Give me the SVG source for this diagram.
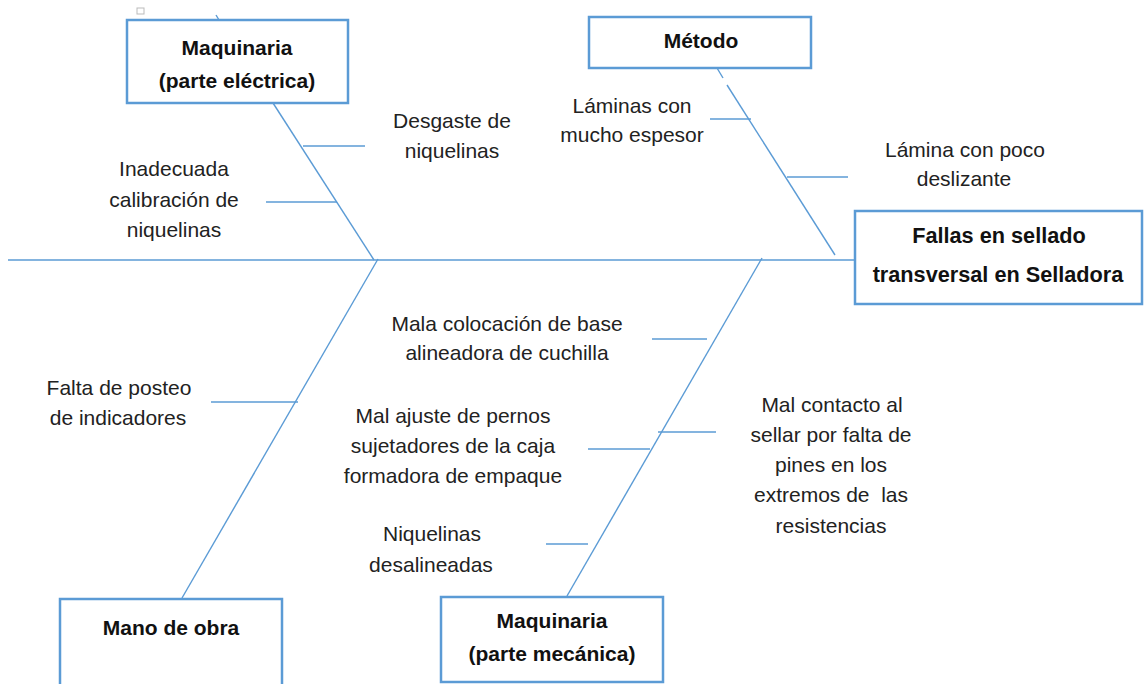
<svg xmlns="http://www.w3.org/2000/svg" width="1144" height="684" viewBox="0 0 1144 684">
<style>
.bg{fill:#ffffff}
.box{fill:#ffffff;stroke:#5b9bd5;stroke-width:2.5}
.ln{stroke:#5b9bd5;stroke-width:1.4;fill:none}
.t{font-family:"Liberation Sans",Arial,sans-serif;font-size:21px;fill:#222;text-anchor:middle}
.b{font-family:"Liberation Sans",Arial,sans-serif;font-size:21px;font-weight:bold;fill:#111;text-anchor:middle}
.bh{font-family:"Liberation Sans",Arial,sans-serif;font-size:21.7px;font-weight:bold;fill:#111;text-anchor:middle}
</style>
<rect class="bg" x="0" y="0" width="1144" height="684"/>
<rect x="137" y="8" width="7" height="6" fill="none" stroke="#bbbbbb" stroke-width="1"/>
<g id="connectors">
<line class="ln" x1="8" y1="260" x2="855" y2="260"/>
<line class="ln" x1="273" y1="103" x2="374" y2="260"/>
<line class="ln" x1="216" y1="15" x2="219" y2="20"/>
<line class="ln" x1="303" y1="146" x2="365" y2="146"/>
<line class="ln" x1="266" y1="202" x2="337" y2="202"/>
<line class="ln" x1="378" y1="259" x2="182" y2="598"/>
<line class="ln" x1="211" y1="402" x2="298" y2="402"/>
<line class="ln" x1="717" y1="68" x2="723" y2="78"/>
<line class="ln" x1="727" y1="85" x2="835" y2="255"/>
<line class="ln" x1="710" y1="119" x2="751" y2="119"/>
<line class="ln" x1="787" y1="177" x2="848" y2="177"/>
<line class="ln" x1="762" y1="258" x2="567" y2="596"/>
<line class="ln" x1="652" y1="339" x2="707" y2="339"/>
<line class="ln" x1="588" y1="449" x2="650" y2="449"/>
<line class="ln" x1="658" y1="432" x2="716" y2="432"/>
<line class="ln" x1="546" y1="544" x2="588" y2="544"/>
</g>
<g id="n-electrica">
<rect class="box" x="127" y="20" width="221" height="83"/>
<text class="b" x="237" y="55">Maquinaria</text>
<text class="b" x="237" y="88">(parte eléctrica)</text>
</g>
<g id="n-metodo">
<rect class="box" x="589" y="17" width="222" height="51"/>
<text class="b" x="701" y="48">Método</text>
</g>
<g id="n-efecto">
<rect class="box" x="855" y="211" width="287" height="93"/>
<text class="bh" x="999" y="243">Fallas en sellado</text>
<text class="bh" x="998" y="282">transversal en Selladora</text>
</g>
<g id="n-mano">
<rect class="box" x="60" y="599" width="222" height="92"/>
<text class="b" x="171" y="635">Mano de obra</text>
</g>
<g id="n-mecanica">
<rect class="box" x="441" y="597" width="222" height="85"/>
<text class="b" x="552" y="628">Maquinaria</text>
<text class="b" x="552" y="661">(parte mecánica)</text>
</g>
<g id="c-desgaste">
<text class="t" x="452" y="128">Desgaste de</text>
<text class="t" x="452" y="158">niquelinas</text>
</g>
<g id="c-inadecuada">
<text class="t" x="174" y="176">Inadecuada</text>
<text class="t" x="174" y="207">calibración de</text>
<text class="t" x="174" y="237">niquelinas</text>
</g>
<g id="c-laminas">
<text class="t" x="632" y="113">Láminas con</text>
<text class="t" x="632" y="142">mucho espesor</text>
</g>
<g id="c-lamina">
<text class="t" x="965" y="157">Lámina con poco</text>
<text class="t" x="964" y="186">deslizante</text>
</g>
<g id="c-falta">
<text class="t" x="119" y="395">Falta de posteo</text>
<text class="t" x="118" y="425">de indicadores</text>
</g>
<g id="c-mala">
<text class="t" x="507" y="331">Mala colocación de base</text>
<text class="t" x="507" y="360">alineadora de cuchilla</text>
</g>
<g id="c-ajuste">
<text class="t" x="453" y="423">Mal ajuste de pernos</text>
<text class="t" x="453" y="453">sujetadores de la caja</text>
<text class="t" x="453" y="483">formadora de empaque</text>
</g>
<g id="c-niquelinas">
<text class="t" x="432" y="541">Niquelinas</text>
<text class="t" x="431" y="572">desalineadas</text>
</g>
<g id="c-contacto">
<text class="t" x="832" y="412">Mal contacto al</text>
<text class="t" x="831" y="442">sellar por falta de</text>
<text class="t" x="831" y="472">pines en los</text>
<text class="t" x="831" y="502" xml:space="preserve">extremos de  las</text>
<text class="t" x="831" y="533">resistencias</text>
</g>
</svg>
